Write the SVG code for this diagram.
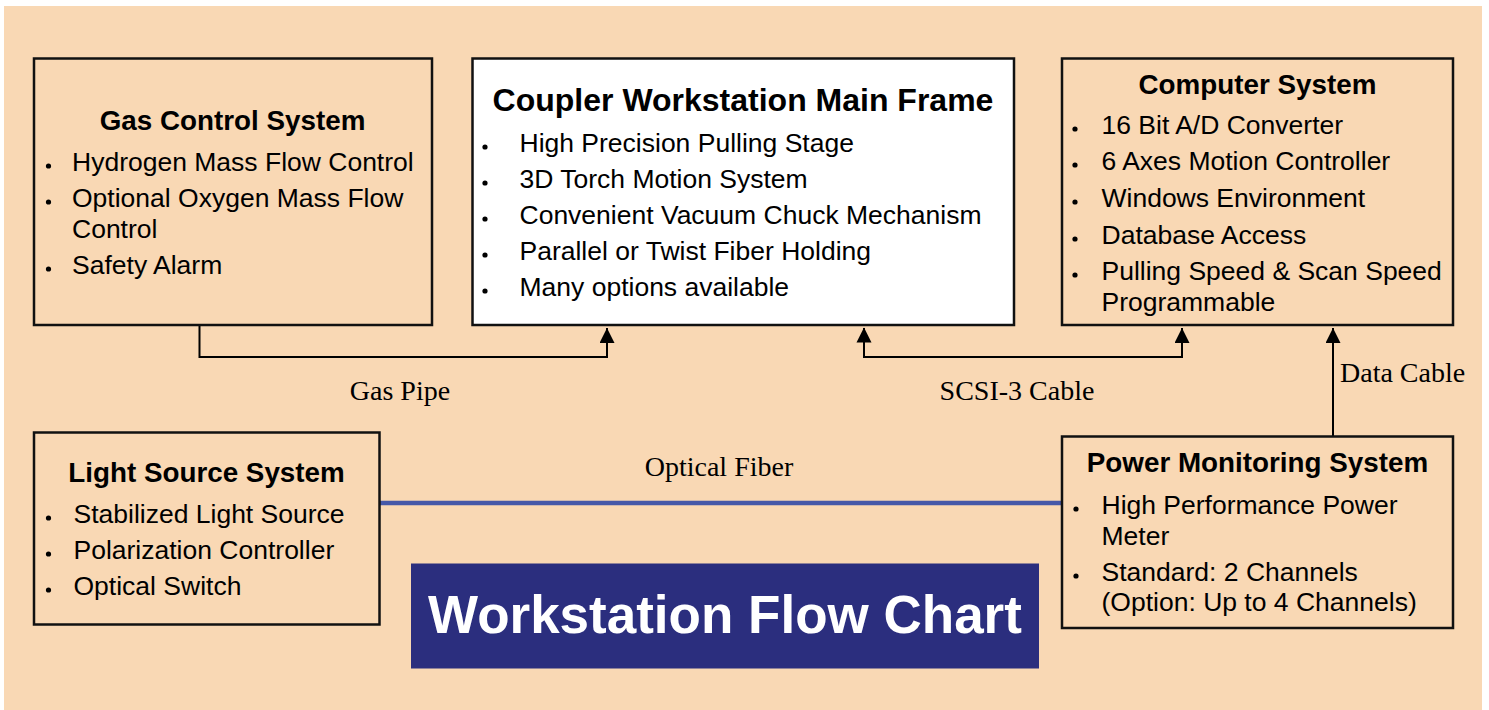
<svg xmlns="http://www.w3.org/2000/svg" width="1489" height="710" viewBox="0 0 1489 710">
<style>
.box{fill:#F9D8B4;stroke:#111;stroke-width:2.5}
.wbox{fill:#fff;stroke:#111;stroke-width:2.5}
.ttl{font-family:"Liberation Sans",Arial,sans-serif;font-weight:bold;font-size:27.8px;fill:#000;text-anchor:middle}
.big{font-family:"Liberation Sans",Arial,sans-serif;font-weight:bold;font-size:32px;fill:#000;text-anchor:middle}
.itm{font-family:"Liberation Sans",Arial,sans-serif;font-size:26.5px;fill:#000}
.lbl{font-family:"Liberation Serif","Times New Roman",serif;font-size:28px;fill:#000}
.dot{fill:#000}
.ln{fill:none;stroke:#000;stroke-width:2}
</style>
<defs>
<marker id="ah" markerWidth="15" markerHeight="15" refX="15" refY="7.5" orient="auto" markerUnits="userSpaceOnUse" viewBox="0 0 15 15">
<path d="M0,0 L15,7.5 L0,15 Z" fill="#000"/>
</marker>
</defs>
<rect x="0" y="0" width="1489" height="710" fill="#fff"/>
<rect x="4" y="6" width="1478" height="704" fill="#F9D8B4"/>

<g id="connectors">
<polyline class="ln" points="199.5,325 199.5,357 607,357 607,328" marker-end="url(#ah)"/>
<polyline class="ln" points="864,328 864,357 1182,357 1182,328" marker-end="url(#ah)"/>
<path d="M864,327.5 L871.5,342.5 L856.5,342.5 Z" fill="#000"/>
<line class="ln" x1="1333" y1="436" x2="1333" y2="328" marker-end="url(#ah)"/>
<line x1="380" y1="503" x2="1062" y2="503" stroke="#4658A8" stroke-width="4.5"/>
<text class="lbl" x="400" y="400" text-anchor="middle">Gas Pipe</text>
<text class="lbl" x="1017" y="400" text-anchor="middle">SCSI-3 Cable</text>
<text class="lbl" x="719" y="476" text-anchor="middle">Optical Fiber</text>
<text class="lbl" x="1340" y="382">Data Cable</text>
</g>

<g id="gas">
<rect class="box" x="34" y="58.5" width="398" height="266.5"/>
<text class="ttl" x="232.5" y="129.5">Gas Control System</text>
<circle class="dot" cx="48.5" cy="166" r="2.6"/>
<text class="itm" x="72" y="171">Hydrogen Mass Flow Control</text>
<circle class="dot" cx="48.5" cy="202" r="2.6"/>
<text class="itm" x="72" y="207">Optional Oxygen Mass Flow</text>
<text class="itm" x="72" y="238">Control</text>
<circle class="dot" cx="48.5" cy="269" r="2.6"/>
<text class="itm" x="72" y="274">Safety Alarm</text>
</g>

<g id="mainframe">
<rect class="wbox" x="472.5" y="58.5" width="541.5" height="266.5"/>
<text class="big" x="743" y="111">Coupler Workstation Main Frame</text>
<circle class="dot" cx="485" cy="147" r="2.6"/>
<text class="itm" x="519.5" y="152">High Precision Pulling Stage</text>
<circle class="dot" cx="485" cy="183" r="2.6"/>
<text class="itm" x="519.5" y="188">3D Torch Motion System</text>
<circle class="dot" cx="485" cy="219" r="2.6"/>
<text class="itm" x="519.5" y="224">Convenient Vacuum Chuck Mechanism</text>
<circle class="dot" cx="485" cy="255" r="2.6"/>
<text class="itm" x="519.5" y="260">Parallel or Twist Fiber Holding</text>
<circle class="dot" cx="485" cy="291" r="2.6"/>
<text class="itm" x="519.5" y="296">Many options available</text>
</g>

<g id="computer">
<rect class="box" x="1062" y="58.5" width="391" height="266.5"/>
<text class="ttl" x="1257.5" y="93.5">Computer System</text>
<circle class="dot" cx="1075" cy="129" r="2.6"/>
<text class="itm" x="1101.5" y="134">16 Bit A/D Converter</text>
<circle class="dot" cx="1075" cy="165" r="2.6"/>
<text class="itm" x="1101.5" y="170">6 Axes Motion Controller</text>
<circle class="dot" cx="1075" cy="202" r="2.6"/>
<text class="itm" x="1101.5" y="207">Windows Environment</text>
<circle class="dot" cx="1075" cy="239" r="2.6"/>
<text class="itm" x="1101.5" y="244">Database Access</text>
<circle class="dot" cx="1075" cy="275" r="2.6"/>
<text class="itm" x="1101.5" y="280">Pulling Speed &amp; Scan Speed</text>
<text class="itm" x="1101.5" y="311">Programmable</text>
</g>

<g id="lightsource">
<rect class="box" x="34" y="432.5" width="345.5" height="192"/>
<text class="ttl" x="206.5" y="482">Light Source System</text>
<circle class="dot" cx="48.5" cy="518" r="2.6"/>
<text class="itm" x="73.5" y="523">Stabilized Light Source</text>
<circle class="dot" cx="48.5" cy="554" r="2.6"/>
<text class="itm" x="73.5" y="559">Polarization Controller</text>
<circle class="dot" cx="48.5" cy="590" r="2.6"/>
<text class="itm" x="73.5" y="595">Optical Switch</text>
</g>

<g id="powermonitor">
<rect class="box" x="1062" y="436.5" width="391" height="191.5"/>
<text class="ttl" x="1257.5" y="472">Power Monitoring System</text>
<circle class="dot" cx="1076" cy="509" r="2.6"/>
<text class="itm" x="1101.5" y="514">High Performance Power</text>
<text class="itm" x="1101.5" y="545">Meter</text>
<circle class="dot" cx="1076" cy="576" r="2.6"/>
<text class="itm" x="1101.5" y="581">Standard: 2 Channels</text>
<text class="itm" x="1101.5" y="611">(Option: Up to 4 Channels)</text>
</g>

<g id="title">
<rect x="411" y="563.5" width="628" height="105" fill="#2B2E7E"/>
<text x="725" y="633" text-anchor="middle" font-family="'Liberation Sans',Arial,sans-serif" font-weight="bold" font-size="53px" fill="#fff">Workstation Flow Chart</text>
</g>
</svg>
